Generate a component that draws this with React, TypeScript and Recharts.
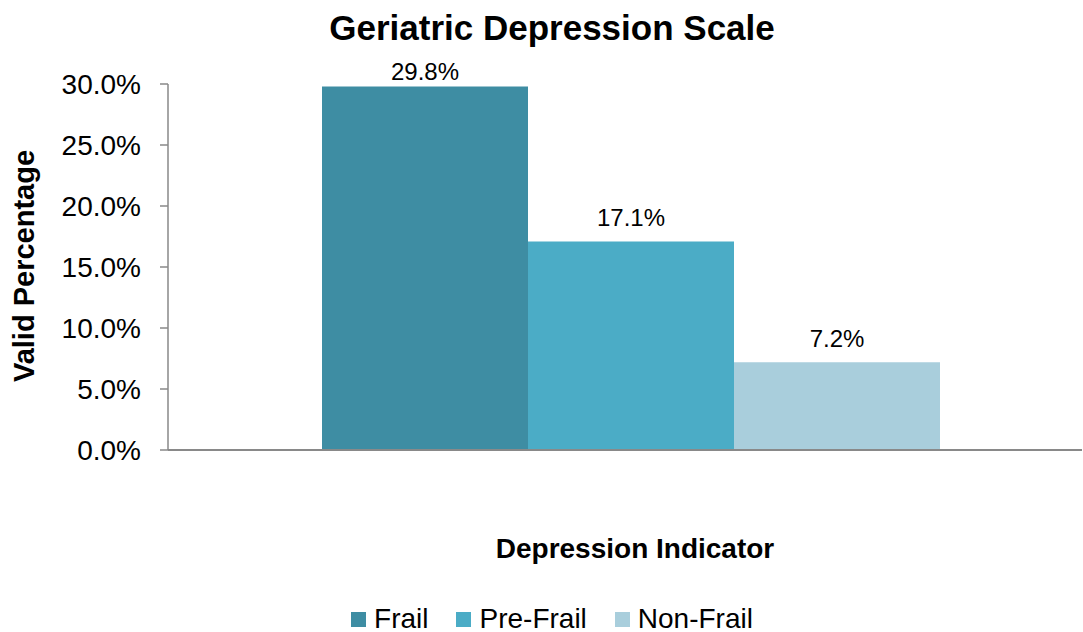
import React from 'react';
import { BarChart, Bar, XAxis, YAxis, Legend, LabelList } from 'recharts';

const groups = ['Frail', 'Pre-Frail', 'Non-Frail'];
const validPct = [29.8, 17.1, 7.2];
const yTicks = [0, 5, 10, 15, 20, 25, 30];
const category = 'Depression Indicator';

const colors = ['#3E8DA3', '#4BACC6', '#A9CEDC'];
const FONT = '"Liberation Sans", Arial, sans-serif';
const AXIS = '#898989';

const row: Record<string, string | number> = { name: category };
groups.forEach((g, i) => {
  row[g] = validPct[i];
});
const data = [row];

const pct = (v: number) => `${Number(v).toFixed(1)}%`;

function LegendBox({ payload }: any) {
  const items = [...(payload || [])].sort(
    (a: any, b: any) => groups.indexOf(a.value) - groups.indexOf(b.value)
  );
  return (
    <div style={{ display: 'flex', justifyContent: 'center', fontFamily: FONT, fontSize: 28, color: '#000' }}>
      {items.map((p: any, i: number) => (
        <div key={p.value} style={{ display: 'flex', alignItems: 'center', marginLeft: i ? 28 : 0 }}>
          <span style={{ width: 15, height: 15, background: p.color, display: 'inline-block', marginRight: 8 }} />
          <span style={{ lineHeight: '28px' }}>{p.value}</span>
        </div>
      ))}
    </div>
  );
}

// value label above a bar; kept inside the plot top like the original
function TopLabel(props: any) {
  const { x, y, width, value } = props;
  const base = Math.max(y - 15, 80);
  return (
    <text x={x + width / 2} y={base} textAnchor="middle" fill="#000" fontSize={24} fontFamily={FONT}>
      {pct(value)}
    </text>
  );
}

export default function App() {
  return (
    <div style={{ position: 'absolute', left: 0, top: 0, width: 1083, height: 632, background: '#fff' }}>
      <BarChart
        width={1083}
        height={632}
        data={data}
        margin={{ top: 84, right: 1, bottom: 180, left: 0 }}
        barGap={0}
        barCategoryGap={141}
      >
        <XAxis
          dataKey="name"
          height={2}
          tick={false}
          tickLine={false}
          axisLine={{ stroke: AXIS, strokeWidth: 2 }}
          padding={{ left: 13, right: 0 }}
        />
        <YAxis
          width={168}
          domain={[0, 30]}
          ticks={yTicks}
          tickFormatter={pct}
          tickSize={8}
          tickMargin={19}
          axisLine={{ stroke: AXIS, strokeWidth: 1.5 }}
          tickLine={{ stroke: AXIS, strokeWidth: 1.5 }}
          tick={{ fill: '#000', fontSize: 28, fontFamily: FONT }}
        />
        <Legend
          layout="horizontal"
          verticalAlign="middle"
          align="center"
          content={<LegendBox />}
          wrapperStyle={{ top: 605, left: 0, width: 1104, height: 30 }}
        />
        {groups.map((g, i) => (
          <Bar key={g} dataKey={g} fill={colors[i]} isAnimationActive={false}>
            <LabelList dataKey={g} content={<TopLabel />} />
          </Bar>
        ))}
      </BarChart>
      <svg
        width={1083}
        height={632}
        style={{ position: 'absolute', left: 0, top: 0, pointerEvents: 'none' }}
        fontFamily={FONT}
        fontWeight="bold"
      >
        <text x={552} y={40} fontSize={35} textAnchor="middle">Geriatric Depression Scale</text>
        <text x={635} y={558} fontSize={28} textAnchor="middle">{category}</text>
        <text x={34} y={266} fontSize={29} textAnchor="middle" transform="rotate(-90 34 266)">Valid Percentage</text>
      </svg>
    </div>
  );
}
